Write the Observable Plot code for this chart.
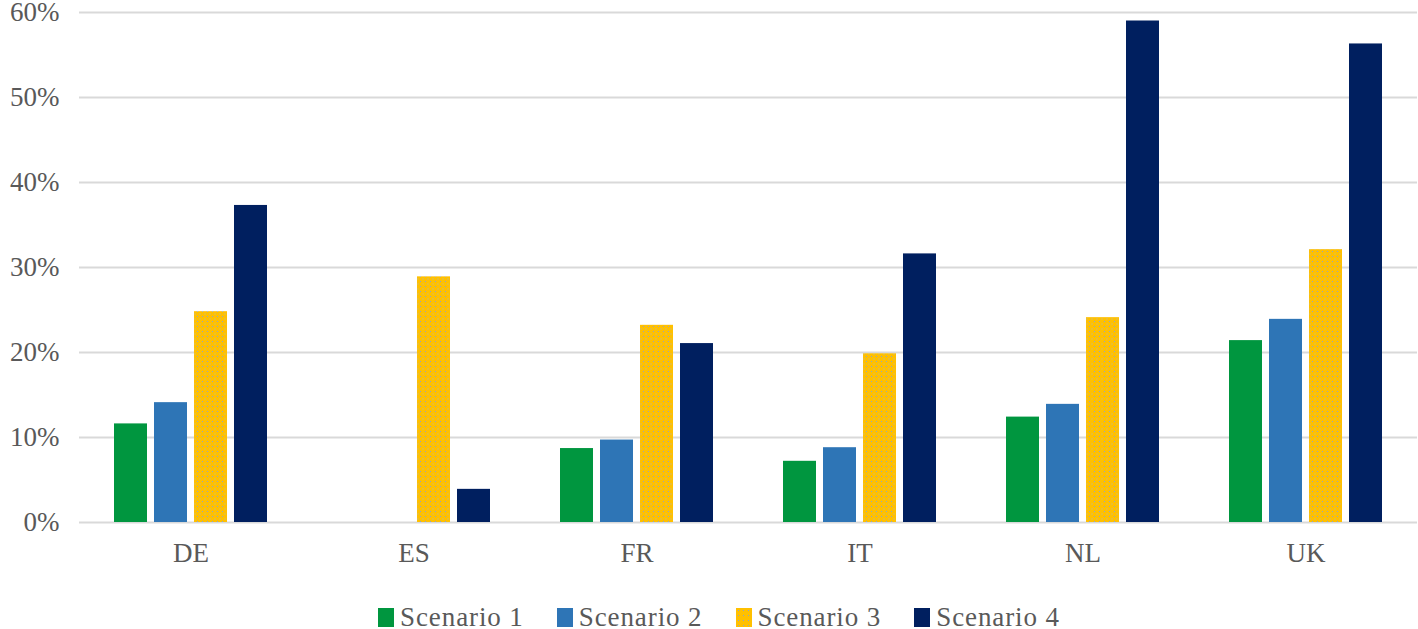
<!DOCTYPE html>
<html>
<head>
<meta charset="utf-8">
<script src="https://cdn.jsdelivr.net/npm/d3@7"></script>
<script src="https://cdn.jsdelivr.net/npm/@observablehq/plot@0.6"></script>
<style>
  html, body { margin: 0; padding: 0; background: #fff; }
  #chart svg { display: block; }
  #legend { display: flex; justify-content: center; align-items: center; height: 49px; box-sizing: border-box; padding-top: 26px;
    font-family: "Liberation Serif", "Times New Roman", serif; font-size: 27px; line-height: 23px; color: #595959; padding-left: 20px; letter-spacing: 0.9px; }
  .item { display: flex; align-items: center; margin-right: 33px; }
  .item:last-child { margin-right: 0; }
  .sw { width: 16px; height: 19px; margin-right: 6px; }
</style>
</head>
<body>
<div id="chart"></div>
<div id="legend"></div>
<script>
const countries = ["DE", "ES", "FR", "IT", "NL", "UK"];
const scenarios = ["Scenario 1", "Scenario 2", "Scenario 3", "Scenario 4"];
const colors = ["#00963f", "#2e75b6", "#ffc000", "#001f5f"];
const scenario1 = [0.116, 0.0, 0.087, 0.072, 0.124, 0.214];
const scenario2 = [0.141, 0.0, 0.097, 0.088, 0.139, 0.239];
const scenario3 = [0.248, 0.289, 0.232, 0.1985, 0.241, 0.321];
const scenario4 = [0.373, 0.039, 0.2105, 0.316, 0.590, 0.563];
const yTicks = [0, 0.1, 0.2, 0.3, 0.4, 0.5, 0.6];

const series = [scenario1, scenario2, scenario3, scenario4];
const data = [];
countries.forEach((c, i) => {
  scenarios.forEach((s, j) => data.push({country: c, scenario: s, value: series[j][i]}));
});

const chart = Plot.plot({
  width: 1418,
  height: 580,
  marginLeft: 78,
  marginRight: 0,
  marginTop: 12,
  marginBottom: 58,
  style: {fontFamily: "'Liberation Serif', 'Times New Roman', serif", fontSize: "27px", color: "#595959", background: "#fff"},
  fx: {domain: countries, padding: 0, label: null, axis: "bottom", tickSize: 0, tickPadding: 20},
  x: {domain: scenarios, paddingInner: 0.17, paddingOuter: 0.81, axis: null},
  y: {domain: [0, 0.6], ticks: yTicks, tickFormat: d3.format(".0%"), tickSize: 0, tickPadding: 20, label: null},
  color: {domain: scenarios, range: colors},
  marks: [
    Plot.gridY(yTicks, {stroke: "#d9d9d9", strokeOpacity: 1, strokeWidth: 2}),
    Plot.barY(data, {fx: "country", x: "scenario", y: "value", fill: "scenario"})
  ]
});

// dotted texture for the yellow series, as in the reference
chart.querySelectorAll("rect").forEach(r => {
  if ((r.getAttribute("fill") || "").toLowerCase() === colors[2]) r.setAttribute("fill", "url(#dots3)");
});
const ns = "http://www.w3.org/2000/svg";
const defs = document.createElementNS(ns, "defs");
defs.innerHTML = `<pattern id="dots3" width="5" height="5" patternUnits="userSpaceOnUse">
  <rect width="5" height="5" fill="${colors[2]}"></rect>
  <rect x="1" y="1" width="1" height="1" fill="#8fa2c8"></rect>
  <rect x="3.5" y="3.5" width="1" height="1" fill="#b0b8c0"></rect>
</pattern>`;
chart.insertBefore(defs, chart.firstChild);
document.getElementById("chart").appendChild(chart);

const legend = document.getElementById("legend");
scenarios.forEach((s, i) => {
  const item = document.createElement("div");
  item.className = "item";
  const sw = document.createElement("div");
  sw.className = "sw";
  sw.style.backgroundColor = colors[i];
  if (i === 2) {
    sw.style.backgroundImage = "radial-gradient(#8fa2c8 0.6px, transparent 0.8px)";
    sw.style.backgroundSize = "5px 5px";
  }
  const t = document.createElement("span");
  t.textContent = s;
  item.appendChild(sw);
  item.appendChild(t);
  legend.appendChild(item);
});
</script>
</body>
</html>
